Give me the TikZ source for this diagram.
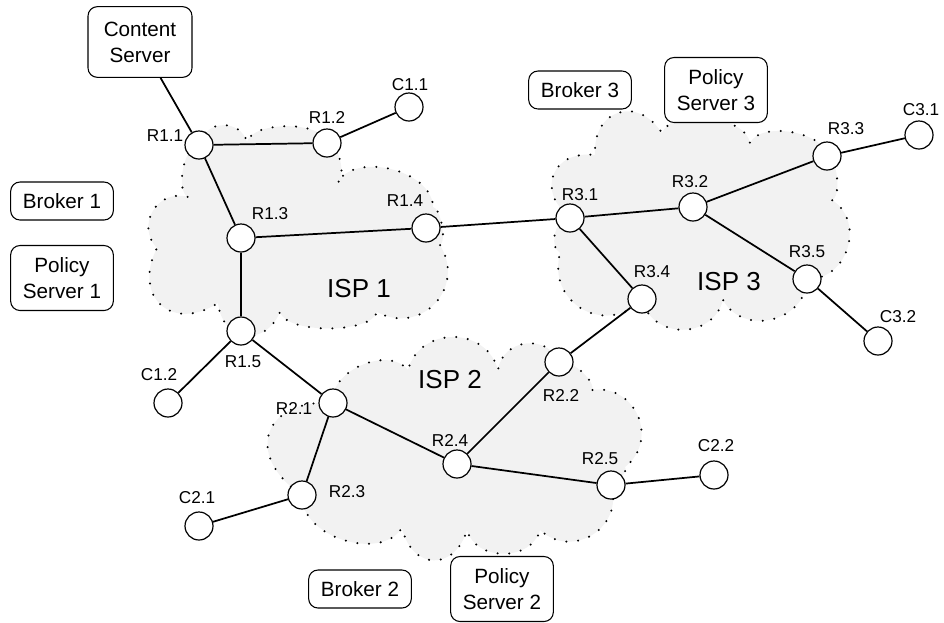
\documentclass[tikz,border=0pt]{standalone}
\usepackage{fontspec}
\setmainfont{Liberation Sans}
\usetikzlibrary{positioning}
\definecolor{cloudbg}{HTML}{F2F2F2}
\newcommand{\lblfont}{\fontsize{12.9}{15}\selectfont}
\newcommand{\boxfont}{\fontsize{15.5}{19.5}\selectfont}
\newcommand{\ispfont}{\fontsize{19.5}{22}\selectfont}
\tikzset{
  rt/.style={circle, draw=black, fill=white, line width=0.9pt, inner sep=0pt, minimum size=21pt},
  srvbox/.style={rectangle, rounded corners=7pt, draw=black, fill=white, line width=0.8pt,
    align=center, font=\boxfont, inner sep=2pt, minimum width=77pt, minimum height=28.5pt},
  tallbox/.style={srvbox, minimum height=48.75pt},
  lbl/.style={font=\lblfont, inner sep=0pt},
  isp/.style={font=\ispfont, inner sep=0pt},
  link/.style={line width=1.3pt},
  cloud/.style={fill=cloudbg, draw=black, line width=1.7pt, line cap=round, dash pattern=on 0pt off 8.8pt},
  lobe/.style={bend left=75, looseness=#1},
}

\begin{document}
\begin{tikzpicture}[x=0.75pt, y=-0.75pt]
  \useasboundingbox (0,0) rectangle (944,622);
  % ISP clouds
  \path[cloud] (200,143) to[lobe=1.3] (247,142) to[lobe=0.7] (327,142) to[lobe=0.7] (337,183)
    to[lobe=0.95] (433,207) to[lobe=0.5] (440,245) to[lobe=1.4] (377,312) to[lobe=0.6] (280,312)
    to[lobe=1.6] (218,303) to[lobe=1.7] (157,248) to[lobe=1.35] (188,197) to[lobe=0.7] (200,143) -- cycle;
  \path[cloud] (333,403) to[lobe=1.0] (408,370) to[lobe=1.3] (498,370) to[lobe=1.3] (559,362)
    to[lobe=0.6] (592,390) to[lobe=1.35] (625,467) to[lobe=0.6] (611,485) to[lobe=1.35] (540,530)
    to[lobe=1.15] (467,530) to[lobe=1.7] (402,528) to[lobe=1.0] (302,495) to[lobe=1.85] (333,403) -- cycle;
  \path[cloud] (570,217) to[lobe=1.65] (595,155) to[lobe=1.65] (662,133) to[lobe=0.8] (750,143)
    to[lobe=0.8] (827,156) to[lobe=0.6] (832,200) to[lobe=1.25] (807,279) to[lobe=1.25] (723,300)
    to[lobe=1.3] (642,300) to[lobe=1.4] (560,253) to[lobe=0.95] (570,217) -- cycle;
  \node[isp] (isp1) at (359,289) {ISP 1};
  \node[isp] (isp2) at (450,380) {ISP 2};
  \node[isp] (isp3) at (729,282) {ISP 3};
  % servers and brokers
  \node[srvbox, minimum width=78pt, minimum height=53pt] (cs) at (140,42) {Content\\Server};
  \node[srvbox] (b1) at (62,201) {Broker 1};
  \node[tallbox] (ps1) at (62,278) {Policy\\Server 1};
  \node[srvbox] (b2) at (360,589) {Broker 2};
  \node[tallbox] (ps2) at (502,589) {Policy\\Server 2};
  \node[srvbox] (b3) at (580,90) {Broker 3};
  \node[tallbox] (ps3) at (716,90) {Policy\\Server 3};
  % routers and clients
  \foreach \k/\x/\y in {r11/199/145, r12/327/143, r13/241/238, r14/426/228, r15/241/331,
      r21/333/403, r22/559/362, r23/302/495, r24/457/464, r25/611/485,
      r31/570/218, r32/693/207, r33/827/156, r34/642/299, r35/807/279,
      c11/409/107, c12/168/403, c21/199/526, c22/714/475, c31/919/135, c32/878/341}
    \node[rt] (\k) at (\x,\y) {};
  \foreach \k/\t/\x/\y in {r11/R1.1/165/136, r12/R1.2/327/117, r13/R1.3/270/214, r14/R1.4/405/201,
      r15/R1.5/243/362, r21/R2.1/294/408, r22/R2.2/561/395, r23/R2.3/347/492, r24/R2.4/450/440,
      r25/R2.5/600/459, r31/R3.1/580/195, r32/R3.2/690/182, r33/R3.3/846/129, r34/R3.4/652/272,
      r35/R3.5/807/252, c11/C1.1/410/85, c12/C1.2/159/375, c21/C2.1/197/498, c22/C2.2/716/446,
      c31/C3.1/921/110, c32/C3.2/898/317}
    \node[lbl] (\k l) at (\x,\y) {\t};
  % links
  \foreach \a/\b in {cs/r11, r11/r12, r12/c11, r11/r13, r13/r14, r13/r15, r14/r31, r15/c12,
      r15/r21, r21/r23, r23/c21, r21/r24, r24/r22, r24/r25, r25/c22, r22/r34, r34/r31,
      r31/r32, r32/r33, r33/c31, r32/r35, r35/c32}
    \draw[link] (\a) -- (\b);
\end{tikzpicture}
\end{document}
